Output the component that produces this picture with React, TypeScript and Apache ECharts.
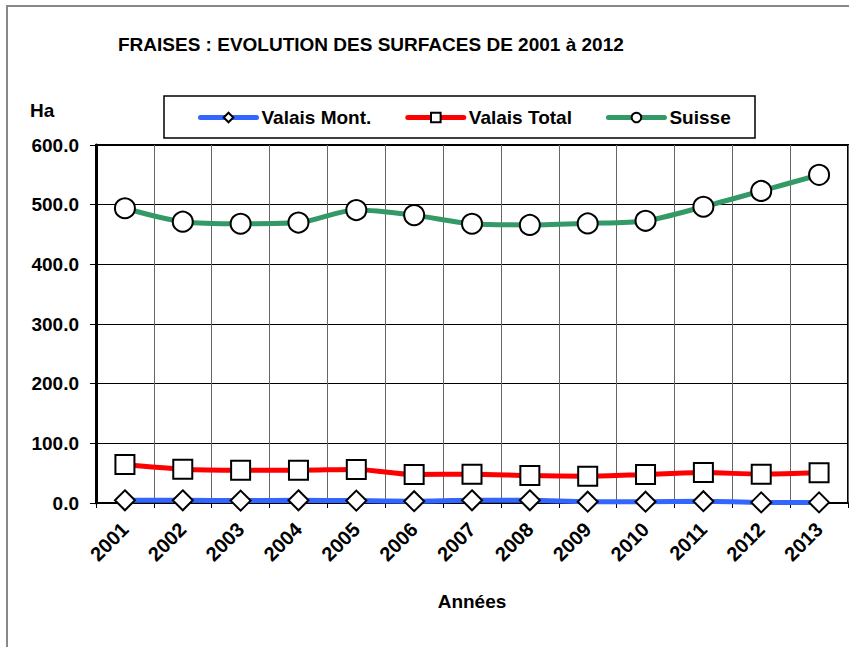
import React, { useEffect, useRef } from "react";
import * as echarts from "echarts";

const years = ["2001","2002","2003","2004","2005","2006","2007","2008","2009","2010","2011","2012","2013"];
const valaisMont = [4.5, 4.5, 4, 4.5, 4, 3, 4.5, 4.5, 2.2, 2.2, 3, 1, 1];
const valaisTotal = [64.5, 56.7, 55, 55, 56.2, 47.8, 48.3, 46, 45, 47.8, 51, 48.3, 50.5];
const suisse = [494, 471.5, 468, 470, 491, 482.5, 468, 466, 468.5, 473, 496.5, 523, 550];

const FONT = "'Liberation Sans', Arial, sans-serif";

export default function App() {
  const ref = useRef<HTMLDivElement>(null);
  useEffect(() => {
    if (!ref.current) return;
    const chart = echarts.init(ref.current, null, { renderer: "svg" });
    const mk = (name: string, data: number[], color: string, symbol: string, size: number) => ({
      name,
      type: "line",
      data,
      smooth: 0.3,
      symbol,
      symbolSize: size,
      showAllSymbol: true,
      lineStyle: { color, width: 5 },
      itemStyle: { color: "#ffffff", borderColor: "#000000", borderWidth: 2 },
      emphasis: { disabled: true },
    });
    chart.setOption({
      animation: false,
      backgroundColor: "#ffffff",
      title: {
        text: "FRAISES : EVOLUTION DES SURFACES DE 2001 à 2012",
        left: 118,
        top: 35,
        padding: 0,
        textStyle: { fontFamily: FONT, fontSize: 19, fontWeight: "bold", color: "#000" },
      },
      legend: {
        left: 198,
        top: 108,
        padding: 0,
        itemWidth: 56,
        itemHeight: 12,
        itemGap: 34,
        lineStyle: { width: 5, cap: "round" },
        textStyle: { fontFamily: FONT, fontSize: 19, fontWeight: "bold", color: "#000", padding: [0, 0, 0, 0] },
        data: ["Valais Mont.", "Valais Total", "Suisse"],
      },
      graphic: [
        {
          type: "rect",
          shape: { x: 7, y: 6, width: 900, height: 700 },
          style: { fill: "none", stroke: "#888888", lineWidth: 2 },
          silent: true,
        },
        {
          type: "rect",
          shape: { x: 164, y: 96, width: 591, height: 42 },
          style: { fill: "none", stroke: "#000000", lineWidth: 1.5 },
          silent: true,
        },
        {
          type: "text",
          left: 30,
          top: 101,
          style: { text: "Ha", fontFamily: FONT, fontSize: 19, fontWeight: "bold", fill: "#000" },
        },
      ],
      grid: {
        left: 96,
        right: 1,
        top: 145,
        bottom: 144,
        show: true,
        borderColor: "#000",
        borderWidth: 2,
        containLabel: false,
      },
      xAxis: {
        type: "category",
        data: years,
        boundaryGap: true,
        name: "Années",
        nameLocation: "middle",
        nameGap: 89,
        nameTextStyle: { fontFamily: FONT, fontSize: 19, fontWeight: "bold", color: "#000" },
        axisLine: { show: true, lineStyle: { color: "#000", width: 2 } },
        axisTick: { show: true, alignWithLabel: false, length: 5, lineStyle: { color: "#000" } },
        splitLine: { show: true, lineStyle: { color: "#666", width: 1 } },
        axisLabel: {
          rotate: 45,
          margin: 23,
          interval: 0,
          fontFamily: FONT,
          fontSize: 20,
          fontWeight: "bold",
          color: "#000",
        },
      },
      yAxis: {
        type: "value",
        min: 0,
        max: 600,
        interval: 100,
        axisLine: { show: true, lineStyle: { color: "#000", width: 3 } },
        axisTick: { show: true, inside: false, length: 6, lineStyle: { color: "#000" } },
        splitLine: { show: true, lineStyle: { color: "#000", width: 1 } },
        axisLabel: {
          margin: 17,
          formatter: (v: number) => v.toFixed(1),
          fontFamily: FONT,
          fontSize: 19,
          fontWeight: "bold",
          color: "#000",
        },
      },
      series: [
        mk("Valais Mont.", valaisMont, "#3366FF", "diamond", 20),
        mk("Valais Total", valaisTotal, "#FF0000", "rect", 19),
        mk("Suisse", suisse, "#339966", "circle", 20),
      ],
    });
    return () => chart.dispose();
  }, []);
  return <div ref={ref} style={{ position: "absolute", left: 0, top: 0, width: 849, height: 647 }} />;
}
